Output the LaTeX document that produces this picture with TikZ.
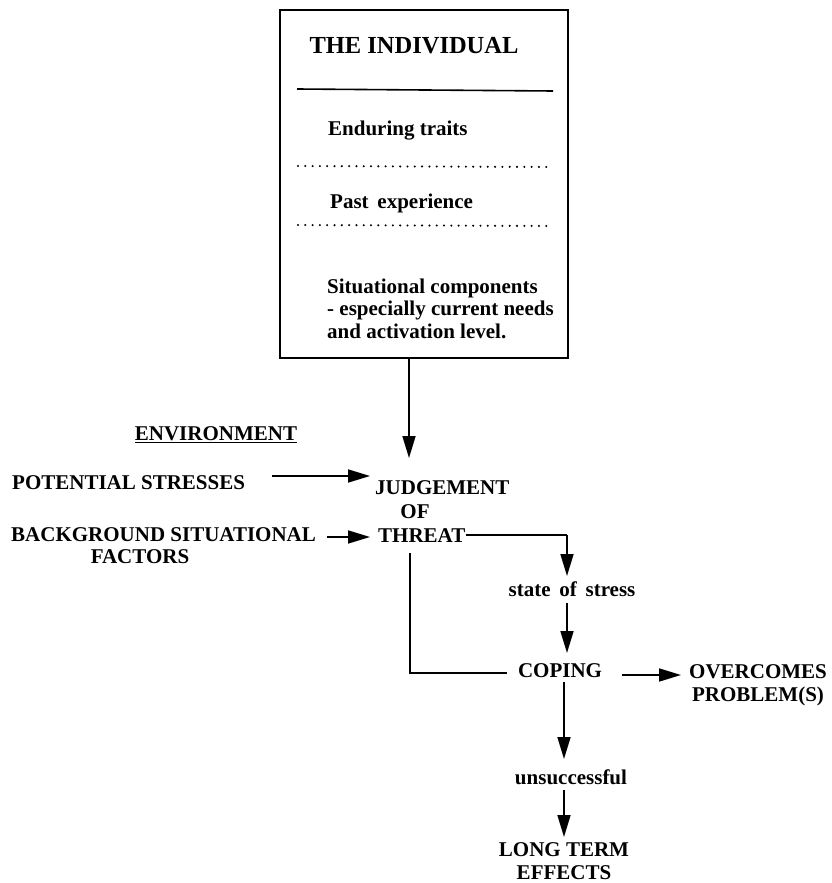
\documentclass[tikz,border=0pt]{standalone}
\usepackage{fontspec}
\setmainfont{Liberation Serif}
\usetikzlibrary{arrows.meta}
\begin{document}
\begin{tikzpicture}[x=1pt,y=-1pt,
  txt/.style={font=\fontsize{21}{22.5}\selectfont\bfseries, inner sep=0pt},
  ttl/.style={font=\fontsize{24.5}{26}\selectfont\bfseries, inner sep=0pt},
  arr/.style={line width=1.7pt, -{Triangle[length=22pt,width=13pt]}},
  ln/.style={line width=1.7pt},
  dots/.style={line width=2.3pt, line cap=round, dash pattern=on 0pt off 7.3pt}]
\useasboundingbox (0,0) rectangle (832,883);
% the individual box
\node[draw, line width=1.7pt, minimum width=288pt, minimum height=348pt, inner sep=0pt, anchor=north west] (box) at (279,9) {};
\node[ttl, anchor=base] (title) at (414,53) {THE INDIVIDUAL};
\draw[line width=1.6pt] (297,89) -- (553,91);
\node[txt, anchor=base west] (traits) at (328,135) {Enduring traits};
\draw[dots] (298,166) -- (551,167);
\node[txt, anchor=base west] (past) at (330,208) {Past\, experience};
\draw[dots] (298,225) -- (551,226);
% multi-line nodes are placed by the baseline of their last line
\node[txt, anchor=base west, align=left] (situ) at (327,338) {Situational components\\- especially current needs\\and activation level.};
% environment
\node[txt, anchor=base] (env) at (216,440) {\underline{ENVIRONMENT}};
\node[txt, anchor=base west] (pot) at (12,489) {POTENTIAL STRESSES};
\node[txt, anchor=base west] (back) at (11,541) {BACKGROUND SITUATIONAL};
\node[txt, anchor=base] (fact) at (140,563) {FACTORS};
% judgement of threat
\node[txt, anchor=base west] (judg) at (375,494) {JUDGEMENT};
\node[txt, anchor=base] (of) at (415,518) {OF};
\node[txt, anchor=base west] (threat) at (378,542) {THREAT};
\node[txt, anchor=base] (stress) at (572,596) {state\, of\, stress};
\node[txt, anchor=base] (coping) at (560,677) {COPING};
\node[txt, anchor=base, align=center] (over) at (758,701) {OVERCOMES\\PROBLEM(S)};
\node[txt, anchor=base] (unsucc) at (571,784) {unsuccessful};
\node[txt, anchor=base, align=center] (long) at (564,879) {LONG TERM\\EFFECTS};
% connectors
\coordinate (c1) at (567,535);
\coordinate (c2) at (410,673);
\draw[arr] (box.south -| 409,0) -- (409,458);
\draw[arr] (272,476) -- (370,476);
\draw[arr] (327,537) -- (370,537);
\draw[ln] (threat.east |- c1) -- (c1);
\draw[arr] (c1) -- (567,576);
\draw[arr] (567,603) -- (567,653);
\draw[ln] (410,553) -- (c2) -- (507,673);
\draw[arr] (622,675) -- (681,675);
\draw[arr] (564,682) -- (564,759);
\draw[arr] (564,790) -- (564,837);
\end{tikzpicture}
\end{document}
